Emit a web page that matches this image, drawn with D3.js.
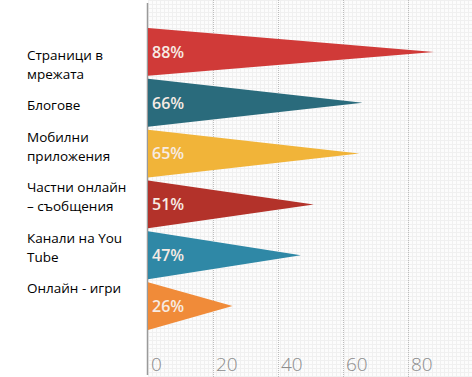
<!DOCTYPE html>
<html><head><meta charset="utf-8">
<script src="https://cdn.jsdelivr.net/npm/d3@7"></script>
<style>html,body{margin:0;padding:0;background:#fff;}svg{display:block;}</style>
</head><body>
<script>
const categories = [
  ["Страници в", "мрежата"],
  ["Блогове"],
  ["Мобилни", "приложения"],
  ["Частни онлайн", "– съобщения"],
  ["Канали на You", "Tube"],
  ["Онлайн - игри"]
];
const values = [88, 66, 65, 51, 47, 26];
const valueLabels = ["88%", "66%", "65%", "51%", "47%", "26%"];
const colors = ["#d03a38", "#2a6b7c", "#f1b439", "#b3322a", "#2f88a6", "#f08b39"];
const tickValues = [0, 20, 40, 60, 80];

const W = 472, H = 377;
const svg = d3.select("body").append("svg").attr("width", W).attr("height", H);

const defs = svg.append("defs");
const pat = defs.append("pattern").attr("id", "dots").attr("width", 4).attr("height", 4)
  .attr("patternUnits", "userSpaceOnUse").attr("x", 148).attr("y", 0);
pat.append("rect").attr("width", 4).attr("height", 4).attr("fill", "#fcfcfc");
pat.append("rect").attr("width", 1).attr("height", 4).attr("fill", "#f0f0f0");
pat.append("rect").attr("width", 4).attr("height", 1).attr("fill", "#f0f0f0");

const x = d3.scaleLinear().domain([0, 100]).range([148, 473]);
const keys = categories.map((c, i) => i);
const y = d3.scaleBand().domain(keys).range([26.5, 331.5]).paddingInner(0.06).paddingOuter(0.03);

// panel background
svg.append("rect").attr("x", x(0)).attr("y", 0).attr("width", W - x(0)).attr("height", H).attr("fill", "url(#dots)");

// gridlines
svg.append("g").selectAll("line").data(tickValues.filter(t => t > 0)).join("line")
  .attr("x1", d => x(d) + 0.5).attr("x2", d => x(d) + 0.5)
  .attr("y1", 0).attr("y2", H)
  .attr("stroke", "#bdbdbd").attr("stroke-width", 1).attr("stroke-dasharray", "1,1");

// axis line
svg.append("line").attr("x1", x(0) - 0.5).attr("x2", x(0) - 0.5).attr("y1", 3).attr("y2", H - 2)
  .attr("stroke", "#9a9a9a").attr("stroke-width", 1.5);

// tick labels
svg.append("g").selectAll("text").data(tickValues).join("text")
  .attr("x", d => x(d) + 3).attr("y", 371)
  .attr("font-family", "'Open Sans', sans-serif").attr("font-weight", 300)
  .attr("font-size", 19).attr("fill", "#8c8c8c")
  .text(d => d);

// triangles
svg.append("g").selectAll("path").data(values).join("path")
  .attr("d", (v, i) => {
    const t = y(i), b = y(i) + y.bandwidth(), c = y(i) + y.bandwidth() / 2;
    return `M${x(0)},${t}L${x(v)},${c}L${x(0)},${b}Z`;
  })
  .attr("fill", (v, i) => colors[i]);

// value labels
svg.append("g").selectAll("text").data(valueLabels).join("text")
  .attr("x", x(0) + 4).attr("y", (d, i) => y(i) + y.bandwidth() / 2)
  .attr("dy", "0.36em")
  .attr("font-family", "'Open Sans', sans-serif").attr("font-weight", 600)
  .attr("font-size", 16).attr("fill", "#f7ebe4")
  .text(d => d);

// category labels as a flowing text block
const lineH = 19, paraGap = 31.5;
let cy = 55;
const lab = svg.append("g").attr("font-family", "'Open Sans', sans-serif").attr("font-size", 13.5).attr("fill", "#000");
categories.forEach((lines, i) => {
  lines.forEach((ln, j) => {
    lab.append("text").attr("x", 27).attr("y", cy).attr("dy", "0.35em").text(ln);
    if (j < lines.length - 1) cy += lineH;
  });
  cy += paraGap;
});
</script>
</body></html>
